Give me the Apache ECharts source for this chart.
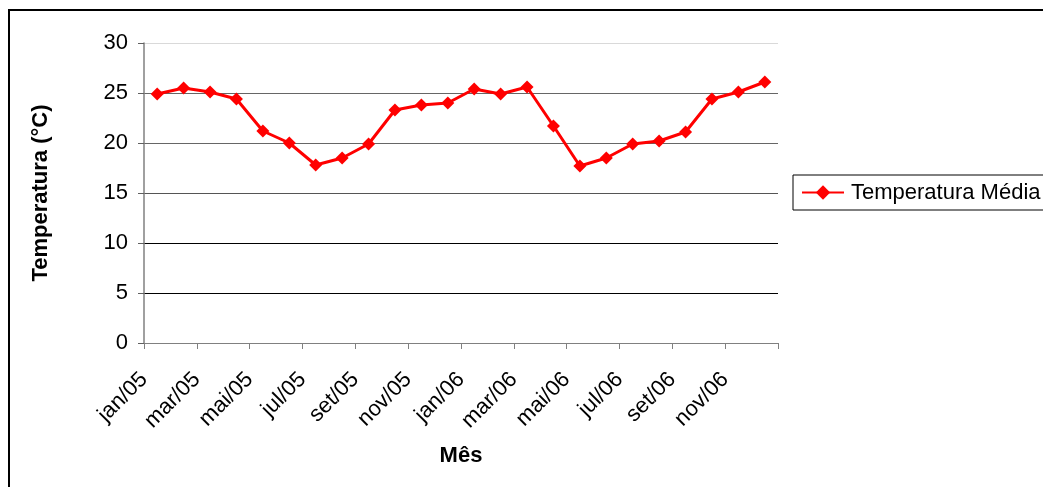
<!DOCTYPE html>
<html>
<head>
<meta charset="utf-8">
<script src="https://cdn.jsdelivr.net/npm/echarts@6/dist/echarts.min.js"></script>
<style>
html,body{margin:0;padding:0;background:#fff;}
#chart{width:1043px;height:487px;}
</style>
</head>
<body>
<div id="chart"></div>
<script>
// Month labels (one per data point)
var months = ['jan/05','fev/05','mar/05','abr/05','mai/05','jun/05','jul/05','ago/05','set/05','out/05','nov/05','dez/05',
              'jan/06','fev/06','mar/06','abr/06','mai/06','jun/06','jul/06','ago/06','set/06','out/06','nov/06','dez/06'];
// Temperatura Média (°C)
var temps = [24.9, 25.5, 25.1, 24.4, 21.2, 20.0, 17.8, 18.5, 19.9, 23.3, 23.8, 24.0,
             25.4, 24.9, 25.6, 21.7, 17.7, 18.5, 19.9, 20.2, 21.1, 24.4, 25.1, 26.1];
var yTicks = [0, 5, 10, 15, 20, 25, 30];
var seriesName = 'Temperatura Média';

var FONT = '"Liberation Sans", Arial, sans-serif';
var chart = echarts.init(document.getElementById('chart'), null, {renderer: 'canvas'});
var option = {
  backgroundColor: '#ffffff',
  animation: false,
  graphic: [{
    type: 'rect',
    shape: {x: 9, y: 10, width: 1300, height: 900},
    style: {fill: 'none', stroke: '#000', lineWidth: 2},
    silent: true
  }],
  grid: {left: 144, top: 43, right: 265, bottom: 144, containLabel: false},
  legend: {
    left: 793, top: 175,
    orient: 'vertical',
    padding: [6, 10, 6, 8],
    itemWidth: 42, itemHeight: 18, itemGap: 0,
    borderColor: '#000', borderWidth: 1, backgroundColor: '#fff',
    textStyle: {fontFamily: FONT, fontSize: 22, lineHeight: 23, color: '#000', padding: [0,0,0,2]},
    data: [seriesName]
  },
  xAxis: {
    type: 'value',
    min: 0, max: months.length, interval: 2,
    name: 'Mês', nameLocation: 'middle', nameGap: 102,
    nameTextStyle: {fontFamily: FONT, fontSize: 22, fontWeight: 'bold', color: '#000'},
    axisLine: {show: true, lineStyle: {color: '#808080', width: 1}},
    axisTick: {show: true, length: 6, lineStyle: {color: '#808080'}},
    splitLine: {show: false},
    axisLabel: {
      rotate: 45, margin: 33,
      fontFamily: FONT, fontSize: 22, color: '#000',
      showMaxLabel: true,
      formatter: function (v) { return v < months.length ? months[v] : ''; }
    }
  },
  yAxis: {
    type: 'value',
    min: yTicks[0], max: yTicks[yTicks.length - 1], interval: 5,
    name: 'Temperatura (°C)', nameLocation: 'middle', nameGap: 92,
    nameTextStyle: {fontFamily: FONT, fontSize: 22, fontWeight: 'bold', color: '#000'},
    axisLine: {show: true, lineStyle: {color: '#808080', width: 1.5}},
    axisTick: {show: true, length: 6, lineStyle: {color: '#606060'}},
    axisLabel: {margin: 16, fontFamily: FONT, fontSize: 22, color: '#000'},
    splitLine: {show: true, lineStyle: {color: ['#808080', '#000', '#000', '#555', '#666', '#666', '#d9d9d9'], width: 1}}
  },
  series: [{
    name: seriesName,
    type: 'line',
    data: temps.map(function (v, i) { return [i + 0.5, v]; }),
    symbol: 'diamond',
    symbolSize: 13,
    lineStyle: {color: '#ff0000', width: 3},
    itemStyle: {color: '#ff0000'}
  }]
};
chart.setOption(option);
</script>
</body>
</html>
